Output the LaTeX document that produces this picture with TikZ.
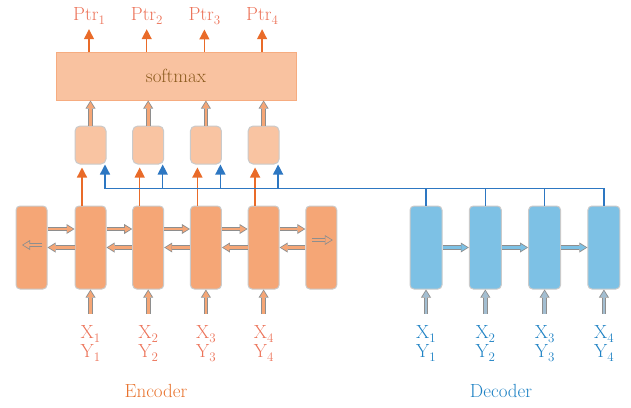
\documentclass[tikz,border=0pt]{standalone}
\usetikzlibrary{arrows.meta,positioning}

\definecolor{encfill}{HTML}{F5A676}
\definecolor{attfill}{HTML}{F9C4A2}
\definecolor{smfill}{HTML}{F9C2A0}
\definecolor{smdraw}{HTML}{F6AC80}
\definecolor{decfill}{HTML}{7DC1E5}
\definecolor{inblue}{HTML}{A3BED1}
\definecolor{cellgray}{HTML}{CACACA}
\definecolor{arrgray}{HTML}{8E8E8E}
\definecolor{ptrorange}{HTML}{E96B29}
\definecolor{linkblue}{HTML}{2D77C2}
\definecolor{enctext}{HTML}{EC7359}
\definecolor{enctitle}{HTML}{E8732E}
\definecolor{dectext}{HTML}{1F82C4}
\definecolor{smtext}{HTML}{8C5B1E}

% lowered index in the label font
\newcommand{\idx}[1]{\raisebox{-4pt}{\fontsize{13}{13}\selectfont #1}}

\tikzset{
  cell/.style={draw=cellgray, line width=1pt, rounded corners=4pt, minimum width=31pt, minimum height=83pt, inner sep=0pt},
  enc/.style={cell, fill=encfill},
  dec/.style={cell, fill=decfill, minimum width=32pt},
  att/.style={draw=cellgray, line width=1pt, rounded corners=5pt, fill=attfill, minimum width=31pt, minimum height=38pt, inner sep=0pt},
  smbox/.style={draw=smdraw, line width=1pt, fill=smfill, minimum width=240pt, minimum height=48pt, text=smtext, font=\fontsize{19}{19}\selectfont},
  fat/.style={draw=arrgray, line width=4.6pt, -{Triangle[length=8pt,width=10pt,line width=0pt]},
    postaction={draw=#1, line width=2.6pt, shorten >=1.4pt, -{Triangle[length=6pt,width=7pt,line width=0pt]}}},
  fat/.default=encfill,
  ptr/.style={draw=ptrorange, line width=1.3pt, -{Triangle[length=10pt,width=10pt]}},
  link/.style={draw=linkblue, line width=1.3pt},
  lbl/.style={font=\fontsize{19}{19}\selectfont, align=center, inner sep=0pt},
}

\begin{document}
\begin{tikzpicture}[x=1pt,y=-1pt,on grid,node distance=57.7pt]
\useasboundingbox (0,0) rectangle (631,407);

% bidirectional encoder
\node[enc] (e1) at (90.5,247.5) {};
\node[enc, left=59pt of e1] (e0) {};
\node[enc, right=of e1] (e2) {};
\node[enc, right=of e2] (e3) {};
\node[enc, right=of e3] (e4) {};
\node[enc, right=of e4] (e5) {};

% decoder
\node[dec] (d1) at (426,247.5) {};
\node[dec, right=59.3pt of d1] (d2) {};
\node[dec, right=59.3pt of d2] (d3) {};
\node[dec, right=59.3pt of d3] (d4) {};

% attention cells and softmax
\node[att, above=102.5pt of e1] (a1) {};
\node[att, above=102.5pt of e2] (a2) {};
\node[att, above=102.5pt of e3] (a3) {};
\node[att, above=102.5pt of e4] (a4) {};
\node[smbox] (sm) at (176,76) {softmax};

% recurrent links
\foreach \i [count=\j] in {0,...,4}{
  \draw[fat] ([yshift=18.5pt]e\i.east) -- ([yshift=18.5pt]e\j.west);
  \draw[fat] (e\j.west) -- (e\i.east);
}
\draw[fat] ([xshift=10.5pt,yshift=2.5pt]e0.center) -- ([xshift=-9.5pt,yshift=2.5pt]e0.center);
\draw[fat] ([xshift=-9.5pt,yshift=7.5pt]e5.center) -- ([xshift=11.5pt,yshift=7.5pt]e5.center);
\foreach \i [count=\j from 2] in {1,2,3}
  \draw[fat=decfill] (d\i.east) -- (d\j.west);

% inputs and labels
\foreach \i in {1,...,4}{
  \draw[fat] ([yshift=-24pt]e\i.south) -- (e\i.south);
  \draw[fat=inblue] ([yshift=-24pt]d\i.south) -- (d\i.south);
  \node[lbl, anchor=north, text=enctext] (xe\i) at ([yshift=-36pt]e\i.south) {X\idx{\i}\\Y\idx{\i}};
  \node[lbl, anchor=north, text=dectext] (xd\i) at ([yshift=-36pt]d\i.south) {X\idx{\i}\\Y\idx{\i}};
}
\node[lbl, text=enctitle] (enc) at (156,391) {Encoder};
\node[lbl, text=dectext] (dec) at (501,391) {Decoder};

% encoder states up to the attention cells
\foreach \i in {1,...,4}{
  \draw[ptr] ([xshift=-8.5pt]e\i.north) -- ([xshift=-8.5pt,yshift=-3pt]a\i.south);
  \draw[fat] (a\i.north) -- (a\i.north |- sm.south);
}

% decoder states on the shared bus
\foreach \i in {1,...,4}
  \path (a\i.south) ++(14.5,24) coordinate (b\i);
\draw[link] (d4.north) |- (b1);
\foreach \i in {1,...,4}{
  \draw[link, -{Triangle[length=10pt,width=10pt]}] (b\i) -- ([xshift=14.5pt]a\i.south);
  \draw[link] (d\i.north) -- (d\i.north |- b1);
}

% pointer outputs
\foreach \i in {1,...,4}{
  \node[lbl, anchor=base, xshift=-1.5pt, text=enctext] (p\i) at (a\i |- 0,20) {Ptr\idx{\i}};
  \draw[ptr] (sm.north -| p\i) -- ([yshift=-5pt]p\i.south);
}
\end{tikzpicture}
\end{document}
